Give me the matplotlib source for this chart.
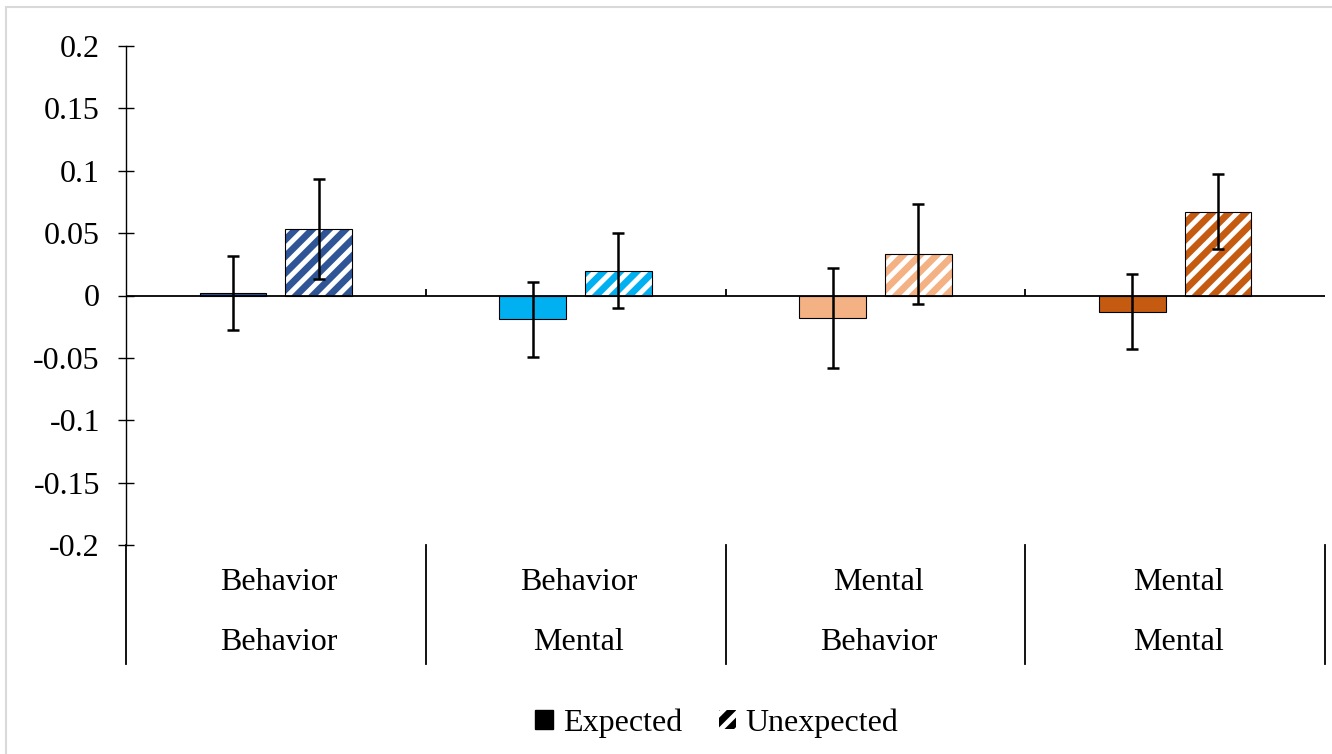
import matplotlib
matplotlib.use('Agg')
import matplotlib.pyplot as plt
import numpy as np
from matplotlib.patches import Patch, Rectangle
from matplotlib.lines import Line2D

plt.rcParams['font.family'] = ['Liberation Serif', 'DejaVu Serif']
plt.rcParams['hatch.linewidth'] = 3.6

# data
row1 = ['Behavior', 'Behavior', 'Mental', 'Mental']
row2 = ['Behavior', 'Mental', 'Behavior', 'Mental']
expected = [0.002, -0.019, -0.018, -0.013]
expected_err = [0.030, 0.030, 0.040, 0.030]
unexpected = [0.053, 0.020, 0.033, 0.067]
unexpected_err = [0.040, 0.030, 0.040, 0.030]
colors = ['#2F5597', '#00B0F0', '#F4B183', '#C55A11']
yticks = [-0.2, -0.15, -0.1, -0.05, 0, 0.05, 0.1, 0.15, 0.2]

W, H = 1332, 754
fig = plt.figure(figsize=(W / 100, H / 100), dpi=100)
ax = fig.add_axes([126 / W, 1 - 545 / H, 1199 / W, 499 / H])

# light grey frame around the figure
fig.add_artist(Rectangle((6 / W, -0.02), 1.1, 1 - 7 / H + 0.02, transform=fig.transFigure,
                         fill=False, edgecolor='#D9D9D9', lw=1.5))

x = np.arange(len(row1))
bw = 0.223
off = 0.143
ekw = dict(fmt='none', ecolor='black', elinewidth=1.8, capsize=4.5, capthick=1.8, zorder=5)

for i in range(len(x)):
    ax.bar(x[i] - off, expected[i], bw, color=colors[i], edgecolor='black', lw=0.8, zorder=3)
    ax.bar(x[i] + off, unexpected[i], bw, color=colors[i], edgecolor='white', hatch='//', lw=0, zorder=3)
    ax.bar(x[i] + off, unexpected[i], bw, fill=False, edgecolor='black', lw=0.8, zorder=4)
    ax.errorbar(x[i] - off, expected[i], yerr=expected_err[i], **ekw)
    ax.errorbar(x[i] + off, unexpected[i], yerr=unexpected_err[i], **ekw)

ax.axhline(0, color='black', lw=1.3, zorder=4)
ax.vlines([0.5, 1.5, 2.5], 0, 0.005, color='black', lw=1.3)

ax.set_xlim(-0.5, 3.5)
ax.set_ylim(-0.2, 0.2)
ax.set_yticks(yticks)
ax.set_yticklabels([f'{v:g}' for v in yticks], fontsize=23)
ax.tick_params(axis='y', direction='inout', length=11.5, width=1, pad=13)
ax.set_xticks([])
for s in ['top', 'right', 'bottom']:
    ax.spines[s].set_visible(False)
ax.spines['left'].set_linewidth(1)

# category separators and labels below the plot
tr = ax.get_xaxis_transform()
ybot = -(664 - 545) / 499
for b in [-0.5, 0.5, 1.5, 2.5, 3.5]:
    ax.add_line(Line2D([b, b], [0, ybot], transform=tr, color='black', lw=1.3, clip_on=False))
for i in range(len(x)):
    ax.text(x[i] + 0.01, -(582 - 545) / 499, row1[i], transform=tr, ha='center', va='center', fontsize=23)
    ax.text(x[i] + 0.01, -(642 - 545) / 499, row2[i], transform=tr, ha='center', va='center', fontsize=23)

handles = [Patch(facecolor='black', edgecolor='black'),
           Patch(facecolor='black', edgecolor='white', hatch='//', lw=0)]
fig.legend(handles, ['Expected', 'Unexpected'], loc='center', bbox_to_anchor=(717 / W, 1 - 723 / H),
           ncol=2, frameon=False, fontsize=23, handlelength=0.55, handleheight=0.55,
           handletextpad=0.3, columnspacing=1.15)

fig.savefig('out.png', dpi=100)
